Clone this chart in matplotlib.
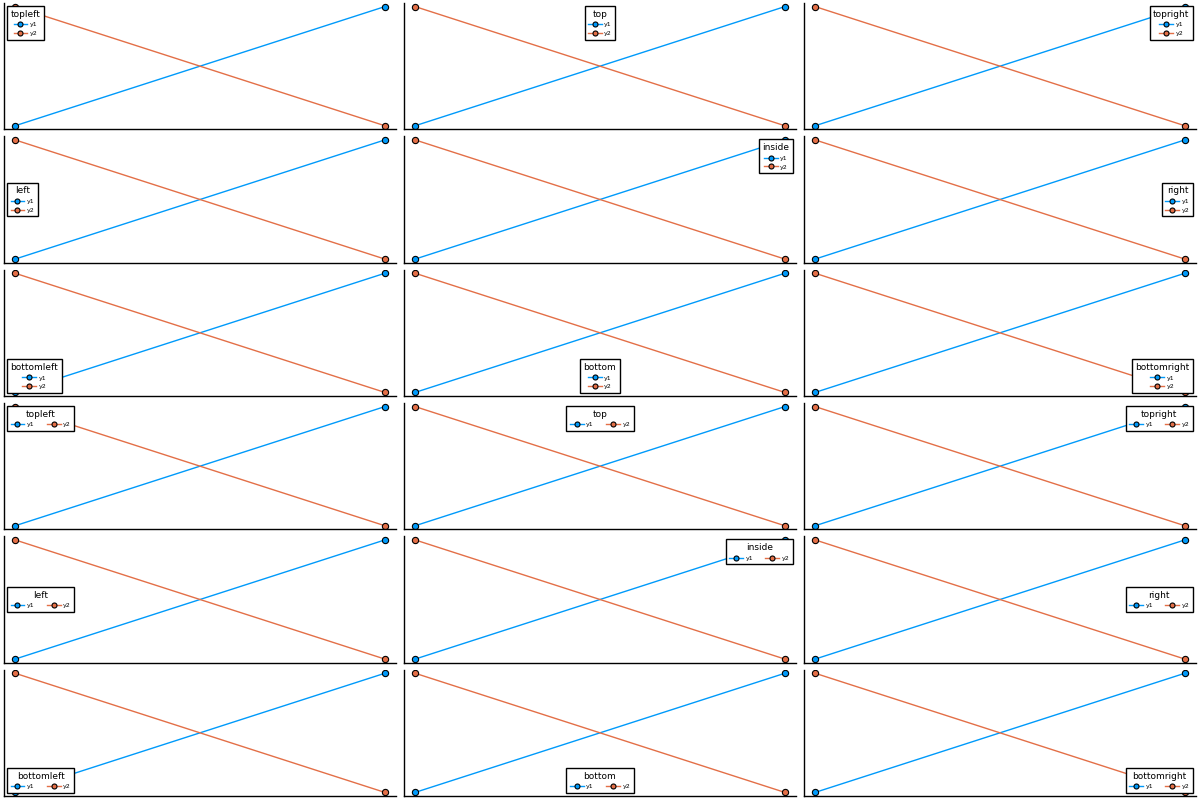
import matplotlib
matplotlib.use("Agg")
import matplotlib.pyplot as plt

# data shared by every panel
x = [1, 2]
y1 = [0, 1]
y2 = [1, 0]
series_labels = ["y1", "y2"]
series_colors = ["#009AFA", "#E36F47"]

# legend titles, in panel order (rows 1-3 vertical legends, rows 4-6 horizontal)
positions = ["topleft", "top", "topright",
             "left", "inside", "right",
             "bottomleft", "bottom", "bottomright"]
loc_map = {"topleft": "upper left", "top": "upper center", "topright": "upper right",
           "left": "center left", "inside": "upper right", "right": "center right",
           "bottomleft": "lower left", "bottom": "lower center", "bottomright": "lower right"}

W, H = 1200, 800
fig = plt.figure(figsize=(12, 8), dpi=100)

nrows, ncols = 6, 3
row_pitch = H / nrows
col_pitch = W / ncols

for k in range(nrows * ncols):
    r, c = divmod(k, ncols)
    pos = positions[k % 9]
    horizontal = r >= 3
    left = c * col_pitch + 4
    right = (c + 1) * col_pitch - 4
    bottom = H - (r + 1) * row_pitch + 4
    top = H - r * row_pitch - 3
    ax = fig.add_axes([left / W, bottom / H, (right - left) / W, (top - bottom) / H])

    for yv, lab, col in zip([y1, y2], series_labels, series_colors):
        ax.plot(x, yv, color=col, lw=1.0, marker="o", ms=4.5,
                mfc=col, mec="black", mew=0.8, label=lab)

    ax.margins(x=0.03, y=0.03)
    ax.set_xticks([])
    ax.set_yticks([])
    ax.spines["top"].set_visible(False)
    ax.spines["right"].set_visible(False)
    for s in ("left", "bottom"):
        ax.spines[s].set_linewidth(1.0)

    leg = ax.legend(loc=loc_map[pos], title=pos, ncol=2 if horizontal else 1,
                    fontsize=4.5, title_fontsize=6.5, fancybox=False,
                    edgecolor="black", framealpha=1.0, borderaxespad=0.5,
                    handlelength=2.2, handletextpad=0.4, columnspacing=2.0,
                    labelspacing=0.55, borderpad=0.55, markerscale=0.8)
    leg.get_frame().set_linewidth(1.0)

fig.savefig("out.png", dpi=100)
